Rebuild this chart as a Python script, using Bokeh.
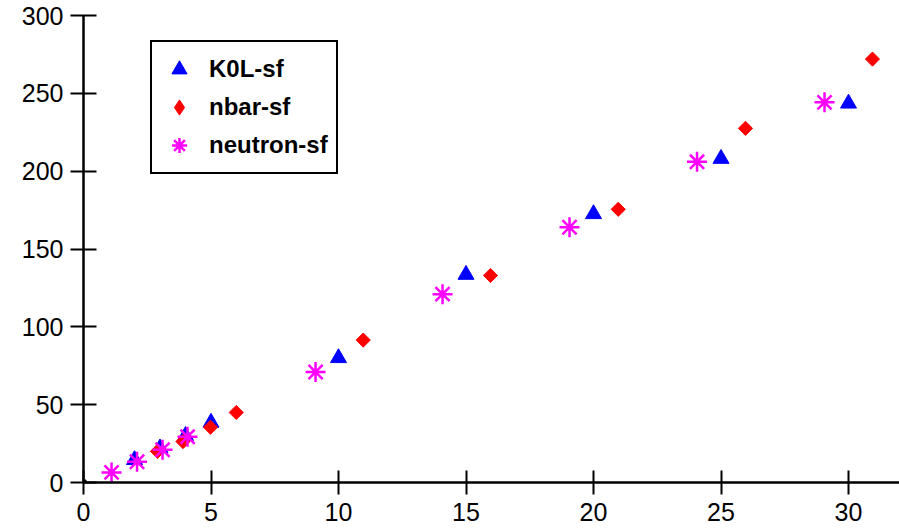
import math
from bokeh.plotting import figure
from bokeh.models import Range1d, Legend, LegendItem, FixedTicker
from bokeh.embed import file_html
from bokeh.resources import INLINE

# Data
k0l_x = [2, 3, 4, 5, 10, 15, 20, 25, 30]
k0l_y = [14.5, 22, 30, 38.5, 80, 133.5, 172.5, 208, 243.5]

nbar_x = [2.9, 3.9, 4.98, 5.99, 10.97, 15.96, 20.97, 25.96, 30.94]
nbar_y = [20, 26.3, 35.5, 45, 91.5, 133, 175.5, 227.5, 272]

neutron_x = [1.1, 2.1, 3.1, 4.08, 9.1, 14.08, 19.06, 24.06, 29.06]
neutron_y = [6.5, 13.3, 21, 29.4, 71, 121, 164, 206, 244.2]

origin_x = [0]
origin_y = [0]

x_ticks = [0, 5, 10, 15, 20, 25, 30]
y_ticks = [0, 50, 100, 150, 200, 250, 300]

FONT = "Liberation Sans"

p = figure(width=899, height=530,
           x_range=Range1d(0, 32), y_range=Range1d(0, 300),
           output_backend="svg", toolbar_location=None,
           min_border_left=83, min_border_right=0,
           min_border_top=15, min_border_bottom=48)
p.grid.visible = False
p.outline_line_color = None
p.background_fill_color = "white"
p.border_fill_color = "white"

p.xaxis.ticker = FixedTicker(ticks=x_ticks)
p.yaxis.ticker = FixedTicker(ticks=y_ticks)
for ax in (p.xaxis, p.yaxis):
    ax.axis_line_width = 2.5
    ax.axis_line_color = "black"
    ax.major_tick_line_width = 2
    ax.major_tick_line_color = "black"
    ax.minor_tick_line_color = None
    ax.major_label_text_font = FONT
    ax.major_label_text_font_size = "25px"
    ax.major_label_text_color = "black"
p.xaxis.major_tick_in = 12
p.xaxis.major_tick_out = 12
p.xaxis.major_label_standoff = 8
p.yaxis.major_tick_in = 13
p.yaxis.major_tick_out = 13
p.yaxis.major_label_standoff = 7

r1 = p.scatter(k0l_x, k0l_y, marker="triangle", size=16,
               fill_color="blue", line_color="blue")
r2 = p.scatter(nbar_x, nbar_y, marker="square", angle=math.pi / 4, size=10,
               fill_color="red", line_color="red")
r3 = p.scatter(neutron_x, neutron_y, marker="asterisk", size=20,
               line_color="magenta", line_width=2.5)
p.scatter(origin_x, origin_y, marker="square", size=5,
          fill_color="black", line_color="black")

# legend proxy for the diamond symbol (legend ignores marker angle)
r2_key = p.scatter([float("nan")], [float("nan")], marker="diamond", size=15,
                   fill_color="red", line_color="red")

legend = Legend(items=[
    LegendItem(label="K0L-sf", renderers=[r1]),
    LegendItem(label="nbar-sf", renderers=[r2_key]),
    LegendItem(label="neutron-sf", renderers=[r3]),
], location=(67, 308))
legend.label_text_font = FONT
legend.label_text_font_style = "bold"
legend.label_text_font_size = "24px"
legend.label_text_color = "black"
legend.glyph_width = 38
legend.glyph_height = 38
legend.label_height = 38
legend.spacing = 0
legend.padding = 8
legend.margin = 0
legend.label_standoff = 11
legend.border_line_color = "black"
legend.border_line_alpha = 1
legend.border_line_width = 2
legend.background_fill_color = "white"
legend.background_fill_alpha = 1
p.add_layout(legend)

open("out.html", "w").write(file_html(p, INLINE))
